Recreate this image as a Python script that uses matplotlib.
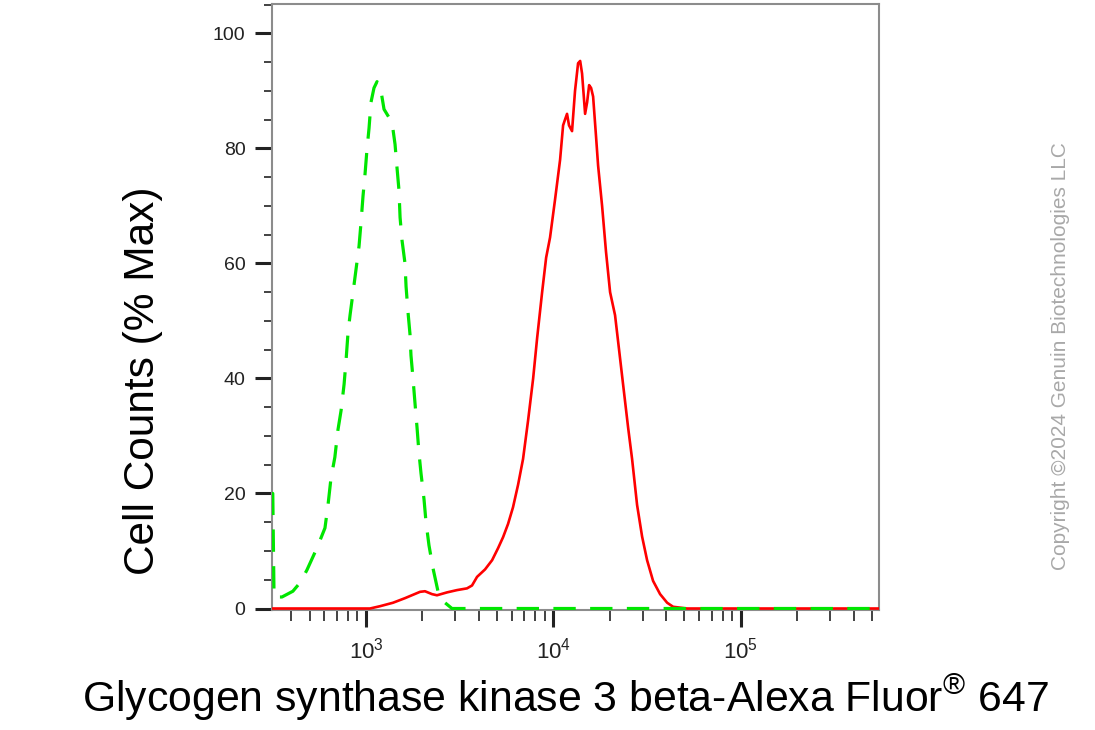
import numpy as np
import matplotlib
matplotlib.use("Agg")
import matplotlib.pyplot as plt
from matplotlib.ticker import FixedLocator, LogLocator, NullFormatter

plt.rcParams['font.family'] = ['Liberation Sans', 'DejaVu Sans']
plt.rcParams['mathtext.fontset'] = 'custom'
plt.rcParams['mathtext.rm'] = 'Liberation Sans'
plt.rcParams['mathtext.it'] = 'Liberation Sans:italic'
plt.rcParams['mathtext.bf'] = 'Liberation Sans:bold'

# isotype control (green, dashed)
ctrl_x = [315, 318, 323, 356, 407, 445, 484, 547, 604, 627, 650, 682, 708, 736, 764,
          782, 802, 822, 853, 885, 918, 940, 964, 988, 1012, 1038, 1063, 1103, 1145,
          1188, 1248, 1377, 1429, 1465, 1500, 1520, 1557, 1615, 1636, 1676, 1717, 1738,
          1782, 1827, 1872, 1918, 1966, 2040, 2091, 2168, 2278, 2422, 2641, 2877,
          10000, 100000, 547000]
ctrl_y = [20, 20, 2, 2, 3, 4.5, 6.7, 10.5, 14, 18, 22.6, 26.3, 31, 34.4, 39,
          43, 48, 51, 55, 59, 63, 67, 71.7, 75.5, 79.8, 83.5, 88, 90.5, 91.6,
          91, 86.8, 84.5, 80.7, 76.5, 72.7, 68, 64, 60, 56, 51.5, 47.7, 44,
          40, 35.6, 31.5, 27, 23.5, 19, 15, 11, 7, 3, 1, 0,
          0, 0, 0]

# GSK3B stained sample (red, solid)
gsk_x = [315, 1000, 1050, 1188, 1393, 1615, 1943, 2065, 2250, 2392, 2705, 3060, 3460,
         3680, 3915, 4320, 4710, 5070, 5390, 5730, 6090, 6480, 6890, 7330, 7800, 8190,
         8710, 9150, 9600, 10200, 10860, 11270, 11540, 11830, 12120, 12580, 13050,
         13550, 13900, 14230, 14770, 15140, 15520, 15900, 16300, 16900, 17330, 18200,
         19100, 20080, 21340, 22420, 23550, 25050, 26310, 27980, 29760, 31640, 34050,
         37120, 40490, 43560, 51760, 547000]
gsk_y = [0, 0, 0, 0.4, 1, 1.8, 2.9, 3, 2.5, 2.3, 2.8, 3.2, 3.5,
         4, 5.5, 6.8, 8.4, 10.5, 12.4, 14.7, 17.6, 21.5, 26, 32.7, 40, 47,
         55, 61, 64.5, 71, 78, 84, 85, 86, 84, 83, 90,
         94.8, 95.2, 93, 86, 88, 91, 90.5, 89, 82, 77, 70,
         62, 55, 51, 45, 39, 31.5, 26, 18, 12.5, 8.4, 4.8,
         2.5, 1, 0.3, 0, 0]

x_major = [1e3, 1e4, 1e5]
x_major_labels = [r'$10^{3}$', r'$10^{4}$', r'$10^{5}$']
y_major = [0, 20, 40, 60, 80, 100]

fig = plt.figure(figsize=(10.95, 7.3), dpi=100)
ax = fig.add_axes([272/1095, 120/730, 607/1095, 606/730])

ax.plot(gsk_x, gsk_y, color='#ff0000', lw=1.9, zorder=3)
ax.plot(ctrl_x, ctrl_y, color='#00e600', lw=2.3, ls=(0, (7, 4.5)), zorder=4)

ax.set_xscale('log')
ax.set_xlim(315, 547000)
ax.set_ylim(-0.26, 105.1)

ax.xaxis.set_major_locator(FixedLocator(x_major))
ax.set_xticklabels(x_major_labels)
ax.xaxis.set_minor_locator(LogLocator(base=10, subs=np.arange(2, 10)))
ax.xaxis.set_minor_formatter(NullFormatter())

ax.yaxis.set_major_locator(FixedLocator(y_major))
ax.yaxis.set_minor_locator(FixedLocator(np.arange(0, 106, 5)))

for s in ax.spines.values():
    s.set_color('#8c8c8c')
    s.set_linewidth(1.5)

ax.tick_params(axis='both', which='major', direction='out', color='#222222',
               width=2.2, labelcolor='#222222')
ax.tick_params(axis='y', which='major', length=12, pad=7, labelsize=14)
ax.tick_params(axis='x', which='major', length=12, pad=8, labelsize=16)
ax.tick_params(axis='both', which='minor', direction='out', color='#222222',
               width=1.2, length=6)
ax.tick_params(axis='x', which='minor', length=8)

fig.text(143/1095, 1 - 381/730, 'Cell Counts (% Max)', rotation=90,
         ha='center', va='center', fontsize=30.5)
fig.text(565/1095, 1 - 698/730, r'Glycogen synthase kinase 3 beta-Alexa Fluor$^{\mathrm{®}}$ 647',
         ha='center', va='center', fontsize=30.8)
fig.text(1060/1095, 1 - 356/730, 'Copyright \u00a92024 Genuin Biotechnologies LLC',
         rotation=90, ha='center', va='center', fontsize=15, color='#a8a8a8')

fig.savefig('out.png', dpi=100)
